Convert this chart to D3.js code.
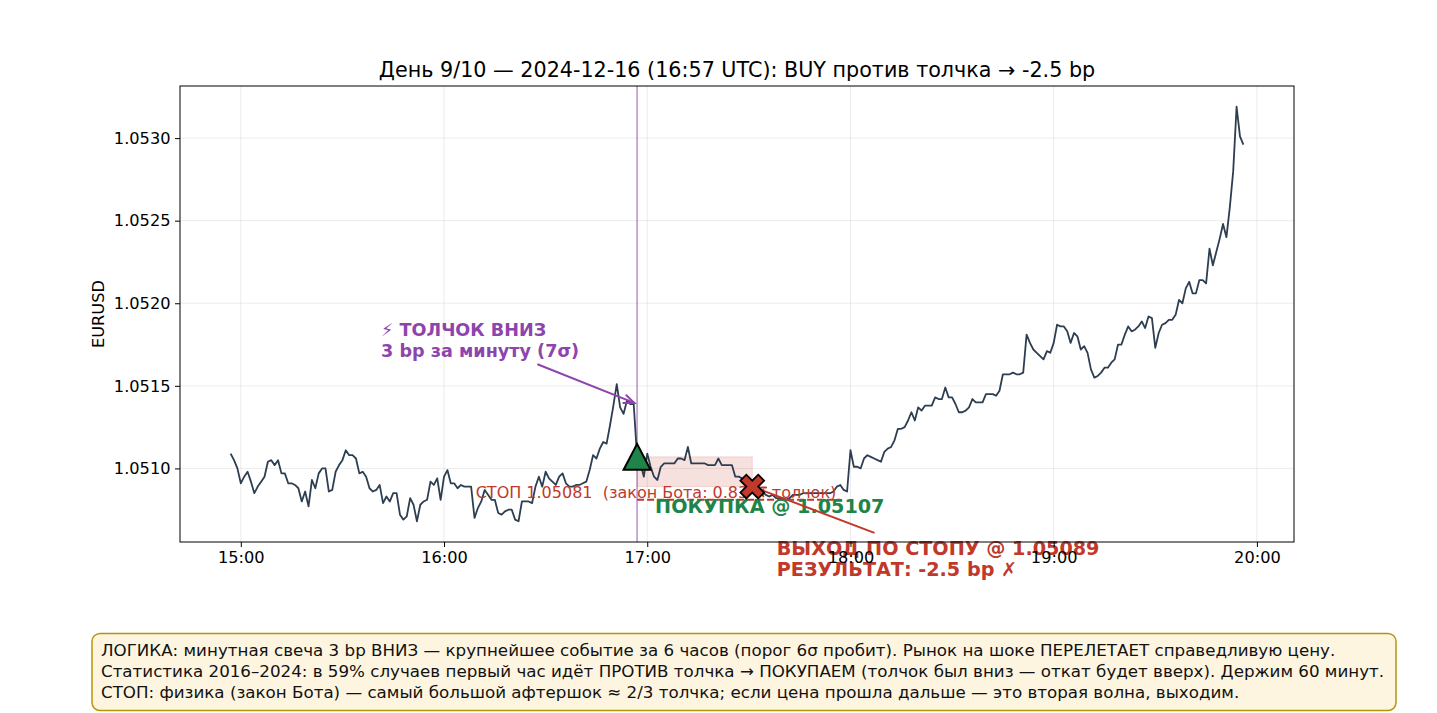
<!DOCTYPE html>
<html>
<head>
<meta charset="utf-8">
<script src="https://cdn.jsdelivr.net/npm/d3@7"></script>
<style>
  body { margin: 0; background: #fff; }
  svg { font-family: "DejaVu Sans", sans-serif; }
  .pre { white-space: pre; }
</style>
</head>
<body>
<svg id="chart"></svg>
<script>
// minute closes EURUSD, 2024-12-16, one per minute from startTime
const day = "2024-12-16";
const startTime = "14:57";
const prices = [
  1.05109, 1.05105, 1.05100, 1.05091, 1.05095, 1.05098, 1.05092, 1.05085, 1.05089, 1.05092,
  1.05095, 1.05104, 1.05105, 1.05102, 1.05105, 1.05097, 1.05097, 1.05091, 1.05091, 1.05090,
  1.05088, 1.05080, 1.05086, 1.05077, 1.05093, 1.05088, 1.05097, 1.05100, 1.05100, 1.05086,
  1.05087, 1.05098, 1.05102, 1.05105, 1.05111, 1.05108, 1.05108, 1.05106, 1.05097, 1.05098,
  1.05095, 1.05088, 1.05086, 1.05087, 1.05090, 1.05079, 1.05083, 1.05080, 1.05085, 1.05085,
  1.05072, 1.05069, 1.05071, 1.05082, 1.05078, 1.05068, 1.05078, 1.05080, 1.05081, 1.05092,
  1.05090, 1.05094, 1.05081, 1.05095, 1.05099, 1.05091, 1.05091, 1.05088, 1.05090, 1.05089,
  1.05089, 1.05089, 1.05070, 1.05076, 1.05080, 1.05087, 1.05084, 1.05081, 1.05081, 1.05073,
  1.05072, 1.05074, 1.05075, 1.05075, 1.05069, 1.05068, 1.05080, 1.05080, 1.05080, 1.05079,
  1.05089, 1.05095, 1.05089, 1.05098, 1.05094, 1.05092, 1.05090, 1.05095, 1.05097, 1.05091,
  1.05089, 1.05089, 1.05090, 1.05090, 1.05091, 1.05092, 1.05099, 1.05108, 1.05106, 1.05112,
  1.05116, 1.05115, 1.05126, 1.05138, 1.05151, 1.05137, 1.05133, 1.05141, 1.05139, 1.05139,
  1.05107, 1.05103, 1.05095, 1.05109, 1.05101, 1.05095, 1.05093, 1.05101, 1.05103, 1.05103,
  1.05103, 1.05103, 1.05106, 1.05106, 1.05105, 1.05113, 1.05103, 1.05103, 1.05103, 1.05103,
  1.05103, 1.05102, 1.05102, 1.05102, 1.05106, 1.05102, 1.05102, 1.05102, 1.05102, 1.05095,
  1.05095, 1.05094, 1.05092, 1.05091, 1.05089, 1.05088, 1.05087, 1.05086, 1.05084, 1.05083,
  1.05084, 1.05082, 1.05082, 1.05082, 1.05081, 1.05082, 1.05084, 1.05084, 1.05084, 1.05085,
  1.05085, 1.05085, 1.05085, 1.05085, 1.05085, 1.05085, 1.05085, 1.05085, 1.05086, 1.05089,
  1.05090, 1.05087, 1.05086, 1.05111, 1.05101, 1.05101, 1.05100, 1.05106, 1.05108, 1.05107,
  1.05106, 1.05105, 1.05104, 1.05110, 1.05112, 1.05113, 1.05117, 1.05124, 1.05124, 1.05125,
  1.05129, 1.05134, 1.05129, 1.05137, 1.05135, 1.05138, 1.05138, 1.05138, 1.05143, 1.05142,
  1.05142, 1.05149, 1.05143, 1.05143, 1.05139, 1.05134, 1.05134, 1.05135, 1.05137, 1.05142,
  1.05140, 1.05140, 1.05140, 1.05145, 1.05145, 1.05145, 1.05144, 1.05147, 1.05157, 1.05157,
  1.05157, 1.05158, 1.05157, 1.05157, 1.05158, 1.05181, 1.05176, 1.05172, 1.05170, 1.05168,
  1.05166, 1.05171, 1.05170, 1.05176, 1.05187, 1.05186, 1.05186, 1.05183, 1.05176, 1.05182,
  1.05180, 1.05172, 1.05174, 1.05170, 1.05160, 1.05155, 1.05156, 1.05158, 1.05161, 1.05161,
  1.05164, 1.05166, 1.05175, 1.05175, 1.05181, 1.05186, 1.05183, 1.05184, 1.05186, 1.05189,
  1.05185, 1.05192, 1.05191, 1.05173, 1.05182, 1.05187, 1.05188, 1.05190, 1.05190, 1.05193,
  1.05202, 1.05200, 1.05209, 1.05213, 1.05206, 1.05206, 1.05214, 1.05214, 1.05212, 1.05233,
  1.05223, 1.05231, 1.05239, 1.05248, 1.05240, 1.05258, 1.05280, 1.05319, 1.05301, 1.05296
];

const yTicks = [1.0510, 1.0515, 1.0520, 1.0525, 1.0530];
const xTickLabels = ["15:00", "16:00", "17:00", "18:00", "19:00", "20:00"];

// trade
const shockTime = "16:57", shockPrice = 1.05139;
const entryTime = "16:57", entryPrice = 1.05107;
const exitTime = "17:31", exitPrice = 1.05089;
const stopPrice = 1.05081;
const holdEnd = "17:57";

const titleText = "День 9/10 — 2024-12-16 (16:57 UTC): BUY против толчка → -2.5 bp";
const shockLabel = ["⚡ ТОЛЧОК ВНИЗ", "3 bp за минуту (7σ)"];
const stopLabel = "СТОП 1.05081  (закон Бота: 0.83 × толчок)";
const entryLabel = "ПОКУПКА @ 1.05107";
const exitLabel = ["ВЫХОД ПО СТОПУ @ 1.05089", "РЕЗУЛЬТАТ: -2.5 bp ✗"];
const logicLines = [
  "ЛОГИКА: минутная свеча 3 bp ВНИЗ — крупнейшее событие за 6 часов (порог 6σ пробит). Рынок на шоке ПЕРЕЛЕТАЕТ справедливую цену.",
  "Статистика 2016–2024: в 59% случаев первый час идёт ПРОТИВ толчка → ПОКУПАЕМ (толчок был вниз — откат будет вверх). Держим 60 минут.",
  "СТОП: физика (закон Бота) — самый большой афтершок ≈ 2/3 толчка; если цена прошла дальше — это вторая волна, выходим."
];

const C = { line: "#2c3e50", purple: "#8e44ad", green: "#1e8449", red: "#c0392b" };

const W = 1437, H = 713;
const M = { left: 180, right: 1294, top: 86, bottom: 542 };
const FS = { tick: 16.2, title: 20.7, box: 16.7, stop: 16.0, shock: 17.6, big: 19.2 };

const parseT = d3.utcParse("%Y-%m-%d %H:%M");
const T = s => parseT(`${day} ${s}`);
const t0 = T(startTime);
const data = prices.map((p, i) => ({ t: d3.utcMinute.offset(t0, i), p: p }));

const svg = d3.select("#chart").attr("width", W).attr("height", H);

// matplotlib-like 5% margins
const tExt = d3.extent(data, d => d.t);
const tPad = (tExt[1] - tExt[0]) * 0.05;
const x = d3.scaleUtc()
  .domain([new Date(+tExt[0] - tPad), new Date(+tExt[1] + tPad)])
  .range([M.left, M.right]);
const pExt = d3.extent(data, d => d.p);
const pPad = (pExt[1] - pExt[0]) * 0.05;
const y = d3.scaleLinear()
  .domain([pExt[0] - pPad, pExt[1] + pPad])
  .range([M.bottom, M.top]);

const xTicks = xTickLabels.map(T);

// grid
const grid = svg.append("g");
grid.selectAll(".gx").data(xTicks).join("line")
  .attr("x1", d => x(d)).attr("x2", d => x(d))
  .attr("y1", M.top).attr("y2", M.bottom)
  .attr("stroke", "#b0b0b0").attr("stroke-opacity", 0.3).attr("stroke-width", 0.8);
grid.selectAll(".gy").data(yTicks).join("line")
  .attr("x1", M.left).attr("x2", M.right)
  .attr("y1", d => y(d)).attr("y2", d => y(d))
  .attr("stroke", "#b0b0b0").attr("stroke-opacity", 0.3).attr("stroke-width", 0.8);

// loss zone between entry and exit
svg.append("rect")
  .attr("x", x(T(entryTime))).attr("width", x(T(exitTime)) - x(T(entryTime)))
  .attr("y", y(entryPrice)).attr("height", y(exitPrice) - y(entryPrice))
  .attr("fill", C.red).attr("fill-opacity", 0.15)
  .attr("stroke", C.red).attr("stroke-opacity", 0.15);

// shock moment
svg.append("line")
  .attr("x1", x(T(shockTime))).attr("x2", x(T(shockTime)))
  .attr("y1", M.top).attr("y2", M.bottom)
  .attr("stroke", C.purple).attr("stroke-opacity", 0.6).attr("stroke-width", 1.5);

// price
const line = d3.line().x(d => x(d.t)).y(d => y(d.p));
svg.append("path").datum(data)
  .attr("d", line)
  .attr("fill", "none").attr("stroke", C.line)
  .attr("stroke-width", 1.8).attr("stroke-linejoin", "round");

// stop level
svg.append("line")
  .attr("x1", x(T(entryTime))).attr("x2", x(T(holdEnd)))
  .attr("y1", y(stopPrice)).attr("y2", y(stopPrice))
  .attr("stroke", C.red).attr("stroke-width", 2).attr("stroke-dasharray", "7,3");
svg.append("text").attr("class", "pre")
  .attr("x", x(T(holdEnd)) - 4).attr("y", y(stopPrice) - 2)
  .attr("text-anchor", "end")
  .attr("font-size", FS.stop).attr("fill", C.red)
  .text(stopLabel);

// entry label
const ex = x(T(entryTime)), ey = y(entryPrice);
svg.append("text")
  .attr("x", ex + 18).attr("y", ey + 56.5)
  .attr("font-size", FS.big).attr("font-weight", "bold").attr("fill", C.green)
  .text(entryLabel);

function arrow(x1, y1, x2, y2, color, shrink) {
  const a = Math.atan2(y2 - y1, x2 - x1);
  const tx = x2 - shrink * Math.cos(a), ty = y2 - shrink * Math.sin(a);
  const g = svg.append("g").attr("stroke", color).attr("stroke-width", 2)
    .attr("fill", "none").attr("stroke-linecap", "round");
  g.append("line").attr("x1", x1).attr("y1", y1).attr("x2", tx).attr("y2", ty);
  const hl = 11, hw = 0.38;
  g.append("path")
    .attr("d", `M${tx - hl * Math.cos(a - hw)},${ty - hl * Math.sin(a - hw)}
                L${tx},${ty}
                L${tx - hl * Math.cos(a + hw)},${ty - hl * Math.sin(a + hw)}`);
}

// shock annotation
const sx = x(T(shockTime)), sy = y(shockPrice);
arrow(sx - 99, sy - 39.5, sx, sy, C.purple, 3);
svg.append("g").selectAll("text").data(shockLabel).join("text")
  .attr("x", sx - 256).attr("y", (d, i) => sy - 68 + i * 20.5)
  .attr("font-size", FS.shock).attr("font-weight", "bold").attr("fill", C.purple)
  .text(d => d);

// exit annotation
const xx = x(T(exitTime)), xy = y(exitPrice);
arrow(xx + 121.5, xy + 46, xx, xy, C.red, 3);
svg.append("g").selectAll("text").data(exitLabel).join("text")
  .attr("x", xx + 24.5).attr("y", (d, i) => xy + 68 + i * 21)
  .attr("font-size", FS.big).attr("font-weight", "bold").attr("fill", C.red)
  .text(d => d);

// markers
svg.append("path")
  .attr("transform", `translate(${ex},${ey})`)
  .attr("d", "M0,-13 L-13.5,13 L13.5,13 Z")
  .attr("fill", C.green).attr("stroke", "#000").attr("stroke-width", 2)
  .attr("stroke-linejoin", "miter");
const a = 4.2;
const plus = [[-1, -3], [1, -3], [1, -1], [3, -1], [3, 1], [1, 1], [1, 3], [-1, 3], [-1, 1], [-3, 1], [-3, -1], [-1, -1]];
svg.append("path")
  .attr("transform", `translate(${xx},${xy}) rotate(45)`)
  .attr("d", "M" + plus.map(p => `${p[0] * a},${p[1] * a}`).join("L") + "Z")
  .attr("fill", C.red).attr("stroke", "#000").attr("stroke-width", 1.8);

// frame + axes
svg.append("rect")
  .attr("x", M.left).attr("y", M.top)
  .attr("width", M.right - M.left).attr("height", M.bottom - M.top)
  .attr("fill", "none").attr("stroke", "#000").attr("stroke-width", 1);

const xAxis = svg.append("g")
  .attr("transform", `translate(0,${M.bottom})`)
  .call(d3.axisBottom(x).tickValues(xTicks).tickFormat(d3.utcFormat("%H:%M"))
    .tickSize(5).tickPadding(4.5));
const yAxis = svg.append("g")
  .attr("transform", `translate(${M.left},0)`)
  .call(d3.axisLeft(y).tickValues(yTicks).tickFormat(d3.format(".4f"))
    .tickSize(5).tickPadding(4.5));
[xAxis, yAxis].forEach(g => {
  g.select(".domain").remove();
  g.selectAll("text").attr("font-size", FS.tick).attr("fill", "#000")
    .attr("font-family", "DejaVu Sans, sans-serif");
  g.selectAll("line").attr("stroke", "#000");
});

svg.append("text")
  .attr("transform", `translate(104,${(M.top + M.bottom) / 2}) rotate(-90)`)
  .attr("text-anchor", "middle").attr("font-size", FS.tick)
  .text("EURUSD");

svg.append("text")
  .attr("x", (M.left + M.right) / 2).attr("y", 76.5)
  .attr("text-anchor", "middle").attr("font-size", FS.title)
  .text(titleText);

// explanation box
const box = svg.append("g");
box.append("rect")
  .attr("x", 92).attr("y", 633.5).attr("width", 1304).attr("height", 77)
  .attr("rx", 8).attr("fill", "#fef5e0").attr("stroke", "#b7950b").attr("stroke-width", 1.5);
box.selectAll("text").data(logicLines).join("text")
  .attr("x", 101).attr("y", (d, i) => 656 + i * 21)
  .attr("font-size", FS.box).attr("fill", "#111")
  .text(d => d);
</script>
</body>
</html>
